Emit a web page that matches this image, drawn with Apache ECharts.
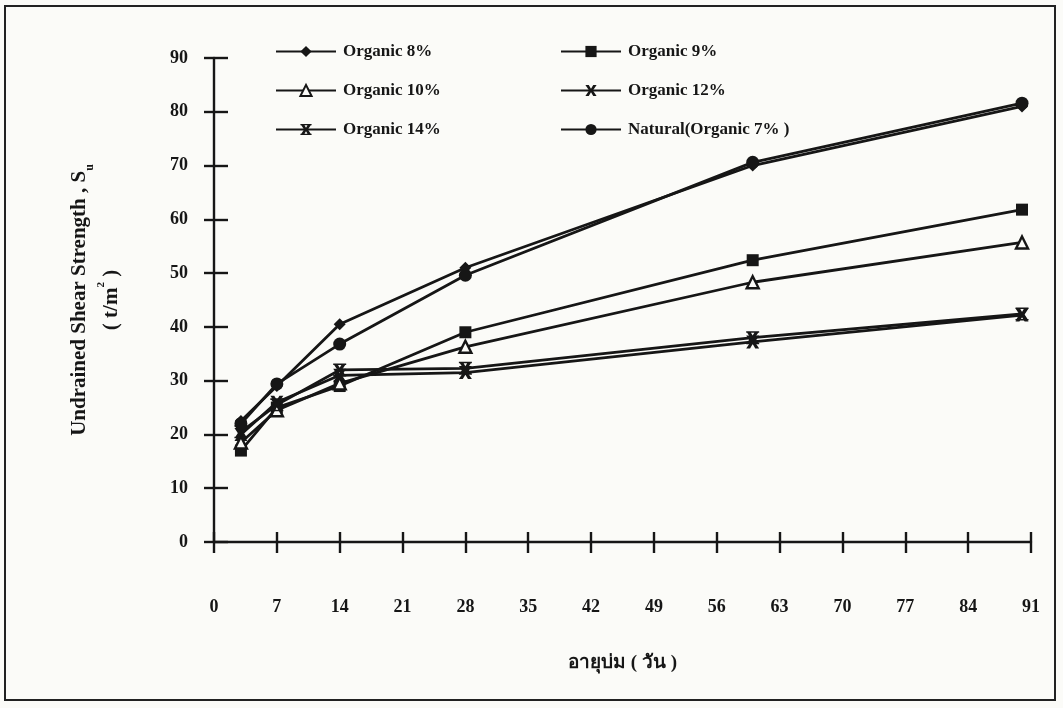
<!DOCTYPE html>
<html>
<head>
<meta charset="utf-8">
<script src="https://cdn.jsdelivr.net/npm/echarts@6/dist/echarts.min.js"></script>
<style>
html,body{margin:0;padding:0;background:#fbfbf8;}
#chart{width:1063px;height:708px;}
</style>
</head>
<body>
<div id="chart"></div>
<script>
// Curing age (days)
var days = [3, 7, 14, 28, 60, 90];
var seriesNames = ['Organic 8%', 'Organic 9%', 'Organic 10%', 'Organic 12%', 'Organic 14%', 'Natural(Organic 7% )'];
var organic8 = [22.5, 29.0, 40.5, 51.0, 70.0, 81.0];
var organic9 = [17.0, 25.0, 29.0, 39.0, 52.4, 61.8];
var organic10 = [18.5, 24.5, 29.5, 36.3, 48.3, 55.7];
var organic12 = [20.0, 26.0, 31.0, 31.5, 37.2, 42.2];
var organic14 = [20.5, 25.5, 32.0, 32.3, 38.0, 42.4];
var natural = [22.0, 29.4, 36.8, 49.6, 70.6, 81.6];
var xTicks = [0, 7, 14, 21, 28, 35, 42, 49, 56, 63, 70, 77, 84, 91];
var yTicks = [0, 10, 20, 30, 40, 50, 60, 70, 80, 90];

var INK = '#161616';
var FONT = '"Liberation Serif", "DejaVu Serif", serif';
var symX = 'path://M0,0L3,0L5,3.4L7,0L10,0L6.7,5L10,10L7,10L5,6.6L3,10L0,10L3.3,5Z';
var symStar = 'path://M0,0L3,0L5,3.4L7,0L10,0L6.7,5L10,10L7,10L5,6.6L3,10L0,10L3.3,5Z M0,0L10,0L10,1.2L0,1.2Z M0,8.8L10,8.8L10,10L0,10Z';

function pairs(vals){ return days.map(function(d,i){ return [d, vals[i]]; }); }

function mk(name, vals, symbol, size, hollow){
  return {
    name: name, type: 'line', xAxisIndex: 0, yAxisIndex: 0,
    data: pairs(vals), symbol: symbol, symbolSize: size,
    lineStyle: {color: INK, width: 2.8},
    itemStyle: {color: hollow ? '#fbfbf8' : INK, borderColor: INK, borderWidth: hollow ? 2.4 : 0},
    emphasis: {disabled: true}, animation: false, z: 3
  };
}

var chart = echarts.init(document.getElementById('chart'), null, {renderer: 'canvas'});
var axisLine = {show: true, lineStyle: {color: INK, width: 2.4}};
var labelStyle = {color: INK, fontFamily: FONT, fontWeight: 'bold', fontSize: 18};
var legendText = {color: INK, fontFamily: FONT, fontWeight: 'bold', fontSize: 17, padding: [0, 0, 0, 2]};

chart.setOption({
  backgroundColor: '#fbfbf8',
  animation: false,
  grid: {left: 214, right: 32, top: 58, bottom: 166},
  graphic: [{type: 'rect', shape: {x: 5, y: 6, width: 1050, height: 694}, style: {fill: 'none', stroke: '#222', lineWidth: 2}, silent: true}],
  legend: [
    {data: [seriesNames[0], seriesNames[2], seriesNames[4]], orient: 'vertical', left: 270, top: 38,
     itemWidth: 60, itemHeight: 14, itemGap: 22, textStyle: legendText},
    {data: [seriesNames[1], seriesNames[3], seriesNames[5]], orient: 'vertical', left: 555, top: 38,
     itemWidth: 60, itemHeight: 14, itemGap: 22, textStyle: legendText}
  ],
  xAxis: [
    {type: 'value', min: 0, max: 91, interval: 7, axisLine: axisLine,
     axisTick: {show: true, inside: false, length: 11, lineStyle: {color: INK, width: 2.4}},
     axisLabel: Object.assign({margin: 56, formatter: function(v){ return xTicks.indexOf(v) >= 0 ? String(v) : ''; }}, labelStyle),
     splitLine: {show: false},
     name: 'อายุบ่ม ( วัน )', nameLocation: 'middle', nameGap: 112,
     nameTextStyle: {color: INK, fontFamily: FONT, fontWeight: 'bold', fontSize: 19}},
    {type: 'value', min: 0, max: 91, interval: 7, position: 'bottom', axisLine: {show: false},
     axisTick: {show: true, inside: true, length: 10, lineStyle: {color: INK, width: 2.4}},
     axisLabel: {show: false}, splitLine: {show: false}}
  ],
  yAxis: [
    {type: 'value', min: 0, max: 90, interval: 10, axisLine: axisLine,
     axisTick: {show: true, inside: false, length: 10, lineStyle: {color: INK, width: 2.4}},
     axisLabel: Object.assign({margin: 26, formatter: function(v){ return yTicks.indexOf(v) >= 0 ? String(v) : ''; }}, labelStyle),
     splitLine: {show: false},
     name: '{m|Undrained Shear Strength , S}{sub|u}\n{m|( t/m}{sup|2}{m| )}', nameLocation: 'middle', nameGap: 86,
     nameTextStyle: {color: INK, fontFamily: FONT, fontWeight: 'bold', fontSize: 21, align: 'center',
       rich: {m: {fontFamily: FONT, fontWeight: 'bold', fontSize: 21, lineHeight: 32, color: INK},
              sub: {fontFamily: FONT, fontWeight: 'bold', fontSize: 12, lineHeight: 13, verticalAlign: 'bottom', color: INK},
              sup: {fontFamily: FONT, fontWeight: 'bold', fontSize: 11, lineHeight: 13, verticalAlign: 'top', color: INK}}}},
    {type: 'value', min: 0, max: 90, interval: 10, position: 'left', axisLine: {show: false},
     axisTick: {show: true, inside: true, length: 14, lineStyle: {color: INK, width: 2.4}},
     axisLabel: {show: false}, splitLine: {show: false}}
  ],
  series: [
    mk(seriesNames[0], organic8, 'diamond', 12, false),
    mk(seriesNames[1], organic9, 'rect', 12, false),
    mk(seriesNames[2], organic10, 'triangle', 12, true),
    mk(seriesNames[3], organic12, symX, 13, false),
    mk(seriesNames[4], organic14, symStar, 13, false),
    mk(seriesNames[5], natural, 'circle', 13, false)
  ]
});
</script>
</body>
</html>
